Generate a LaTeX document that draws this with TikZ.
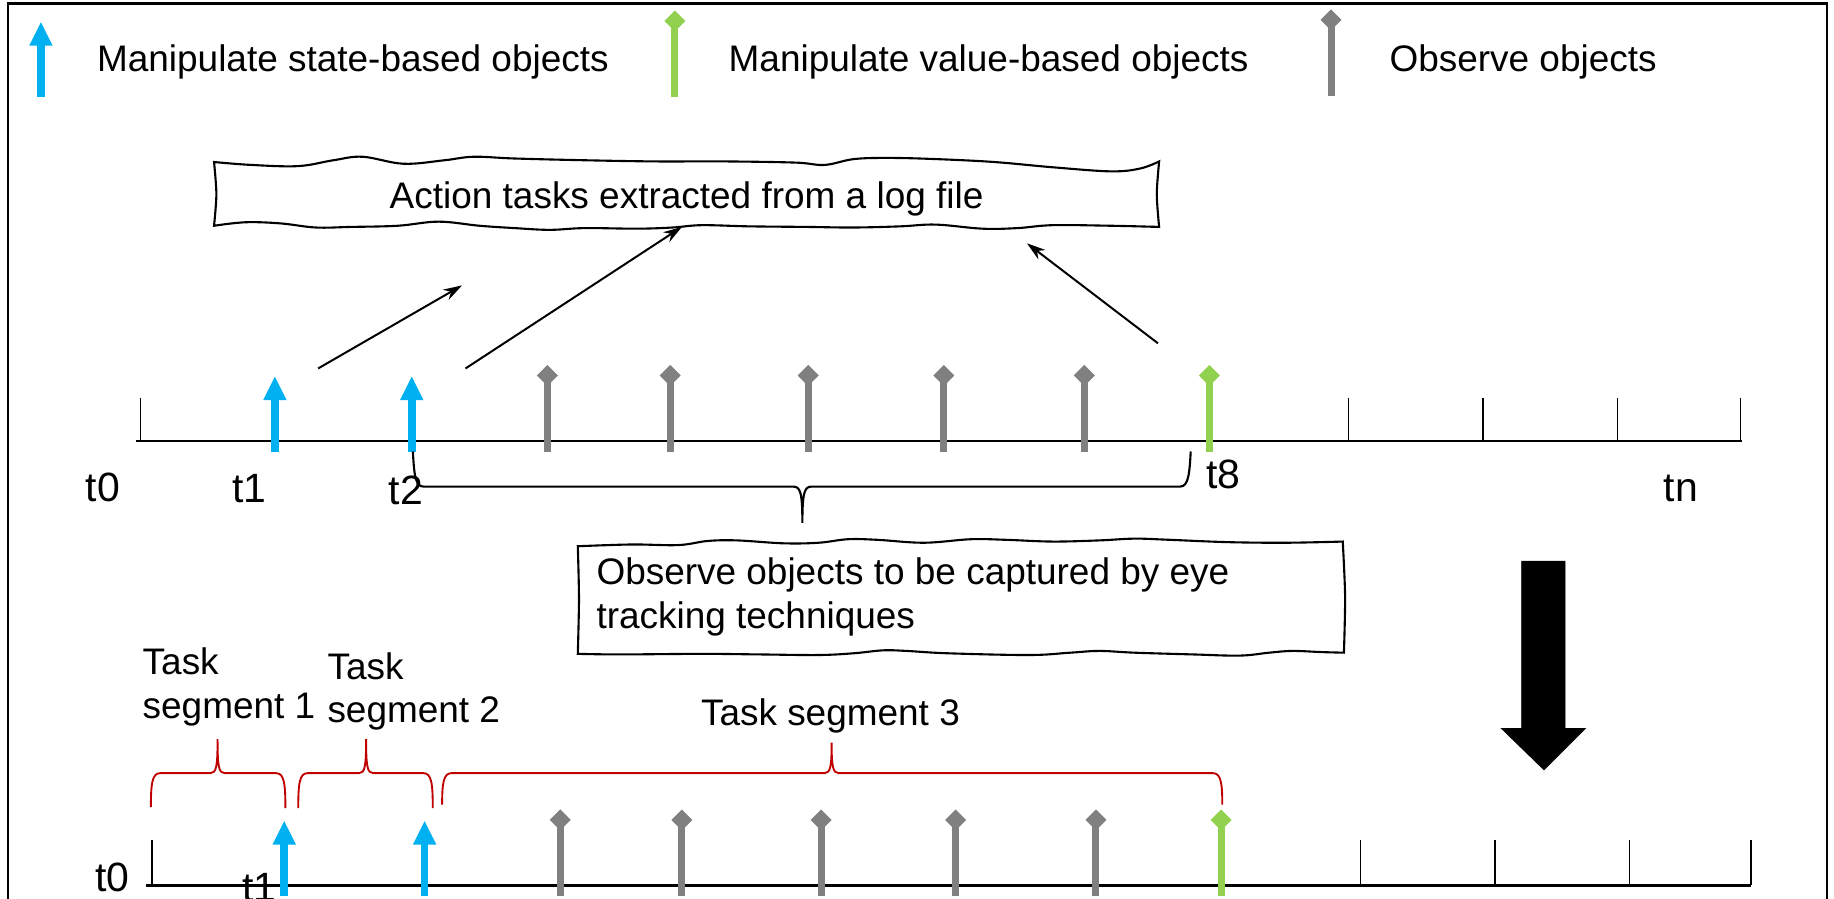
\documentclass[tikz,border=0pt]{standalone}
\usepackage{fontspec}
\setmainfont{Liberation Sans}
\usetikzlibrary{arrows.meta}
\definecolor{statecol}{HTML}{00B0F0}
\definecolor{valuecol}{HTML}{92D050}
\definecolor{obscol}{HTML}{808080}
\definecolor{segcol}{HTML}{C00000}
\begin{document}
\begin{tikzpicture}[x=0.5pt,y=-0.5pt,
  txt/.style={font=\fontsize{15.8}{18.5}\selectfont, inner sep=0pt, outer sep=0pt},
  lbl/.style={font=\fontsize{17.5}{20}\selectfont, inner sep=0pt, outer sep=0pt},
  frame/.style={line width=0.9pt},
  axis/.style={line width=1.1pt},
  tickline/.style={line width=0.6pt},
  conn/.style={line width=0.85pt, -{Stealth[length=8pt,width=5pt]}},
  wavy/.style={line width=0.9pt, fill=white},
  brace/.style={line width=0.9pt},
  segbrace/.style={line width=0.8pt, draw=segcol},
  bigarrow/.style={fill=black},
  statemark/.pic={
    \fill[statecol] (-3.25,0) rectangle (3.25,-45);
    \fill[statecol] (-10,-44) -- (0,-64) -- (10,-44) -- cycle;},
  diamondmark/.pic={
    \fill[#1] (-3,0) rectangle (3,-61);
    \fill[#1] (0,-56) -- (-9,-65) -- (0,-74) -- (9,-65) -- cycle;}
]
\useasboundingbox (0,0) rectangle (1568,768);
\clip (0,0) rectangle (1568,768);

% outer frame
\draw[frame] (7,3) rectangle (1562,900);

% legend
\pic at (35,83) {statemark};
\node[txt, anchor=base west] (leg1) at (83,61) {Manipulate state-based objects};
\pic at (577,83) {diamondmark=valuecol};
\node[txt, anchor=base west] (leg2) at (623,61) {Manipulate value-based objects};
\pic at (1138,82) {diamondmark=obscol};
\node[txt, anchor=base west] (leg3) at (1188,61) {Observe objects};

% box 1 (wavy)
\draw[wavy] plot[smooth, tension=0.6] coordinates {(183,138.5) (215,141) (255,142) (285,137) (310,134) (345,140) (380,137) (405,134) (440,135.5) (500,137) (560,138) (620,138) (680,139) (705,141) (730,136) (760,135) (800,136) (850,138.5) (900,143) (950,146.5) (975,144) (991,138)}
  -- plot[smooth] coordinates {(991,138) (989,166) (991,194)}
  -- plot[smooth, tension=0.6] coordinates {(991,194) (950,193) (900,192.5) (870,195) (840,195.5) (800,192) (770,193.5) (730,194.5) (690,194) (640,193.5) (600,192.5) (575,194.5) (545,195.5) (500,195) (470,196.5) (440,195) (410,193) (375,189.5) (340,193) (300,194) (270,194.5) (240,191) (210,190) (183,193)}
  -- plot[smooth] coordinates {(183,193) (185,166) (183,138.5)} -- cycle;
\node[txt, anchor=base] (box1) at (587,178) {Action tasks extracted from a log file};

% connectors to box 1
\coordinate (a1s) at (272,315); \coordinate (a1e) at (395,244);
\coordinate (a2s) at (398,315); \coordinate (a2e) at (583,194);
\coordinate (a3s) at (990,293.5); \coordinate (a3e) at (878,208);
\draw[conn] (a1s) -- (a1e);
\draw[conn] (a2s) -- (a2e);
\draw[conn] (a3s) -- (a3e);

% timeline 1
\draw[axis] (116,377) -- (1489,377);
\foreach \x in {120,1153,1268,1383,1488} \draw[tickline] (\x,340) -- (\x,377);
\foreach \x in {235,352} \pic at (\x,386) {statemark};
\foreach \x in {468,573,691,807,927} \pic at (\x,386) {diamondmark=obscol};
\pic at (1034,386) {diamondmark=valuecol};
\node[lbl, anchor=base] (r1t0) at (88,429) {t0};
\node[lbl, anchor=base] (r1t1) at (213,430) {t1};
\node[lbl, anchor=base] (r1t2) at (347,431) {t2};
\node[lbl, anchor=base] (r1t8) at (1046,418) {t8};
\node[lbl, anchor=base] (r1tn) at (1437,429) {tn};

% brace under timeline 1
\draw[brace] (353,386) .. controls (354,405) and (355,416) .. (362,416) -- (678,416)
  .. controls (684,416) and (686,420) .. (686,447)
  .. controls (686,420) and (688,416) .. (694,416) -- (1009,416)
  .. controls (1016,416) and (1017,405) .. (1018,386);

% box 2 (wavy)
\draw[wavy] plot[smooth, tension=0.6] coordinates {(494,467) (540,465.5) (580,466) (605,462.5) (630,462) (670,464.5) (700,464) (725,461) (750,461.5) (790,464) (830,461) (860,461.5) (900,463) (940,462) (970,460.5) (1000,461.5) (1050,463.5) (1100,464) (1148,463)}
  -- plot[smooth] coordinates {(1148,463) (1150,510) (1149,558)}
  -- plot[smooth, tension=0.6] coordinates {(1149,558) (1130,557.5) (1105,556.5) (1085,558) (1060,560.5) (1020,559.5) (970,558) (940,556.5) (915,558) (880,560) (810,558.5) (775,556.5) (755,556) (730,558.5) (700,560) (650,559.5) (600,559) (530,559.5) (494,559)}
  -- plot[smooth] coordinates {(494,559) (495,512) (494,467)} -- cycle;
\node[txt, anchor=base west, align=left] (box2) at (510,537) {Observe objects to be captured by eye\\tracking techniques};

% big downward arrow
\draw[bigarrow] (1301,480) -- (1338,480) -- (1338,623) -- (1355,623) -- (1320,658) -- (1284,623) -- (1301,623) -- cycle;

% task segment labels
\node[txt, anchor=base west, align=left] (seg1) at (122,614) {Task\\segment 1};
\node[txt, anchor=base west, align=left] (seg2) at (280,618) {Task\\segment 2};
\node[txt, anchor=base] (seg3) at (710,620) {Task segment 3};

% red braces
\draw[segbrace] (129,690) .. controls (129,670) and (130,661) .. (137,661) -- (180,661)
  .. controls (185,661) and (186,655) .. (186,632)
  .. controls (186,655) and (187,661) .. (192,661) -- (236,661)
  .. controls (243,661) and (244,670) .. (244,691);
\draw[segbrace] (255,691) .. controls (255,670) and (256,661) .. (263,661) -- (307,661)
  .. controls (312,661) and (313,655) .. (313,632)
  .. controls (313,655) and (314,661) .. (319,661) -- (362,661)
  .. controls (369,661) and (370,670) .. (370,691);
\draw[segbrace] (378,688) .. controls (378,670) and (379,661) .. (386,661) -- (705,661)
  .. controls (710,661) and (711,655) .. (711,635)
  .. controls (711,655) and (712,661) .. (717,661) -- (1037,661)
  .. controls (1044,661) and (1045,670) .. (1045,688);

% timeline 2
\draw[axis] (125,757) -- (1497,757);
\foreach \x in {130,1163,1278,1393,1497} \draw[tickline] (\x,718) -- (\x,757);
\foreach \x in {243,363} \pic at (\x,766) {statemark};
\foreach \x in {479,583,702,817,937} \pic at (\x,766) {diamondmark=obscol};
\pic at (1044,766) {diamondmark=valuecol};
\node[lbl, anchor=base] (r2t0) at (96,762) {t0};
\node[lbl, anchor=base] (r2t1) at (222,771) {t1};
\end{tikzpicture}
\end{document}
